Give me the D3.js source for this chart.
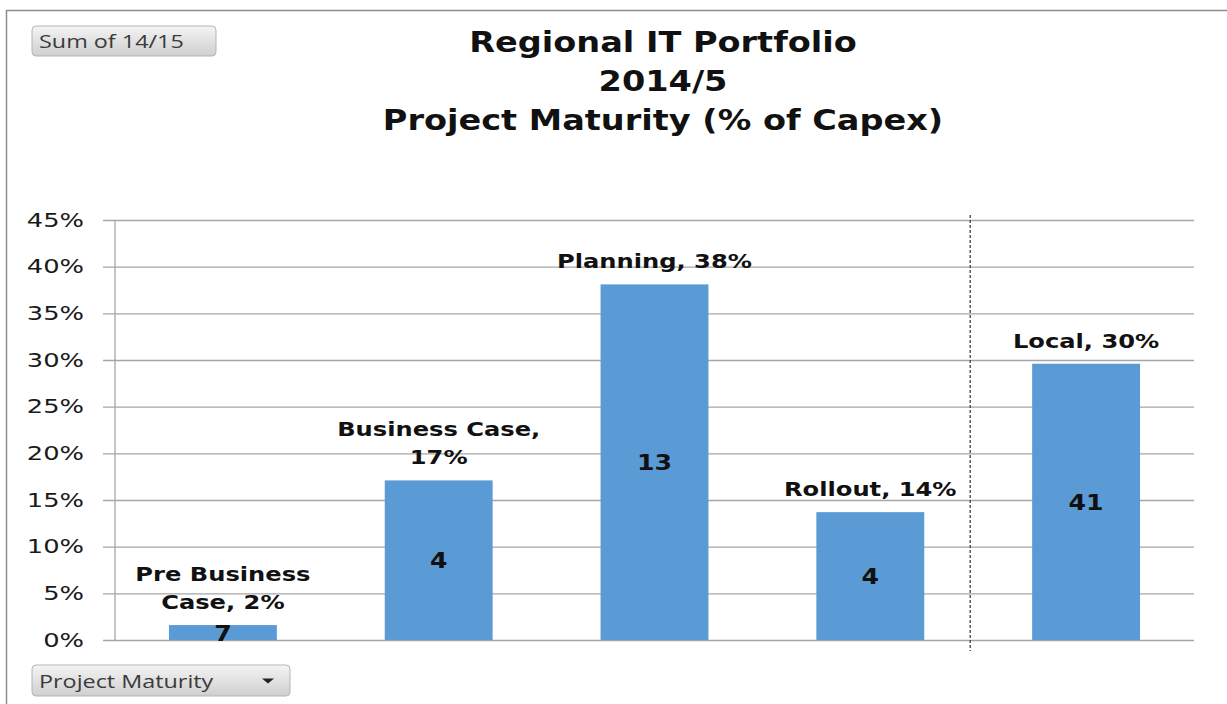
<!DOCTYPE html>
<html><head><meta charset="utf-8">
<script src="https://cdn.jsdelivr.net/npm/d3@7"></script>
<style>
html,body{margin:0;padding:0;background:#fff;}
svg{display:block;}
</style></head>
<body>
<svg id="chart" width="1227" height="704"></svg>
<script>
const categories = ["Pre Business Case", "Business Case", "Planning", "Rollout", "Local"];
const capexShare = [0.016, 0.171, 0.381, 0.137, 0.296];
const topLabels = [["Pre Business", "Case, 2%"], ["Business Case,", "17%"], ["Planning, 38%"], ["Rollout, 14%"], ["Local, 30%"]];
const projectCounts = [7, 4, 13, 4, 41];
const yTicks = [0, 0.05, 0.10, 0.15, 0.20, 0.25, 0.30, 0.35, 0.40, 0.45];
const titleLines = ["Regional IT Portfolio", "2014/5", "Project Maturity (% of Capex)"];

const svg = d3.select("#chart");
const FONT = "'DejaVu Sans', Verdana, sans-serif";
const m = {left: 115, right: 1194, top: 220, bottom: 640};

// frame
svg.append("path").attr("d", "M6.5,704 L6.5,10.5 L1227,10.5").attr("fill", "none").attr("stroke", "#8c8c8c").attr("stroke-width", 1.5);

const defs = svg.append("defs");
const grad = defs.append("linearGradient").attr("id", "btn").attr("x1", 0).attr("y1", 0).attr("x2", 0).attr("y2", 1);
grad.append("stop").attr("offset", "0%").attr("stop-color", "#f4f4f4");
grad.append("stop").attr("offset", "100%").attr("stop-color", "#cfcfcf");

const x = d3.scaleBand().domain(categories).range([m.left, m.right]).paddingInner(0.5).paddingOuter(0.25);
const y = d3.scaleLinear().domain([0, 0.45]).range([m.bottom, m.top]);

// gridlines + tick marks
const yAxis = d3.axisLeft(y).tickValues(yTicks).tickSize(-(m.right - m.left)).tickFormat(d3.format(".0%"));
const gy = svg.append("g").attr("transform", `translate(${m.left},0)`).call(yAxis);
gy.select(".domain").remove();
gy.selectAll(".tick line").attr("stroke", "#a6a6a6").attr("stroke-width", 1.3).attr("x1", -12);
gy.selectAll(".tick text").attr("x", 0).attr("font-family", FONT).attr("font-size", 19.5).attr("fill", "#1a1a1a")
  .attr("text-anchor", "end")
  .attr("transform", "translate(-31,0) scale(1.32,1)");
// axis line
svg.append("line").attr("x1", m.left).attr("x2", m.left).attr("y1", m.top).attr("y2", m.bottom).attr("stroke", "#a6a6a6").attr("stroke-width", 1.3);

// separator dashed line
const sepX = x("Local") - x.step() * x.paddingInner() / 2 - 8;
svg.append("line").attr("x1", sepX).attr("x2", sepX).attr("y1", m.top - 5).attr("y2", m.bottom + 11)
  .attr("stroke", "#404040").attr("stroke-width", 1.3).attr("stroke-dasharray", "3,2");

// bars
const data = categories.map((c, i) => ({c, v: capexShare[i], lab: topLabels[i], n: projectCounts[i]}));
svg.selectAll("rect.bar").data(data).join("rect").attr("class", "bar")
  .attr("x", d => x(d.c)).attr("width", x.bandwidth())
  .attr("y", d => y(d.v)).attr("height", d => y(0) - y(d.v))
  .attr("fill", "#5b9bd5");

// top labels
data.forEach(d => {
  const cx = x(d.c) + x.bandwidth() / 2;
  const n = d.lab.length;
  d.lab.forEach((line, j) => {
    const ty = y(d.v) - 16 - (n - 1 - j) * 28;
    svg.append("text").attr("transform", `translate(${cx},${ty}) scale(1.24,1)`)
      .attr("text-anchor", "middle").attr("font-family", FONT).attr("font-weight", "bold")
      .attr("font-size", 19.5).attr("fill", "#111").text(line);
  });
  const my = (y(d.v) + y(0)) / 2 + 8;
  svg.append("text").attr("transform", `translate(${cx},${my}) scale(1.2,1)`)
    .attr("text-anchor", "middle").attr("font-family", FONT).attr("font-weight", "bold")
    .attr("font-size", 21).attr("fill", "#111").text(d.n);
});

// title
titleLines.forEach((t, i) => {
  svg.append("text").attr("transform", `translate(663,${52 + i * 39}) scale(1.22,1)`)
    .attr("text-anchor", "middle").attr("font-family", FONT).attr("font-weight", "bold")
    .attr("font-size", 27.5).attr("fill", "#111").text(t);
});

// buttons
function button(bx, by, w, h, label, arrow) {
  const g = svg.append("g");
  g.append("rect").attr("x", bx).attr("y", by).attr("width", w).attr("height", h).attr("rx", 4)
    .attr("fill", "url(#btn)").attr("stroke", "#b5b5b5");
  g.append("text").attr("transform", `translate(${bx + 7},${by + h / 2 + 7}) scale(1.23,1)`)
    .attr("font-family", "'Open Sans', sans-serif").attr("font-size", 19).attr("fill", "#3a3a3a").text(label);
  if (arrow) {
    const ax = bx + w - 22, ay = by + h / 2;
    g.append("path").attr("d", `M${ax - 6},${ay - 2} L${ax + 6},${ay - 2} L${ax},${ay + 3} Z`).attr("fill", "#222");
  }
}
button(32, 26, 184, 30, "Sum of 14/15", false);
button(32, 665, 258, 31, "Project Maturity", true);
</script>
</body></html>
